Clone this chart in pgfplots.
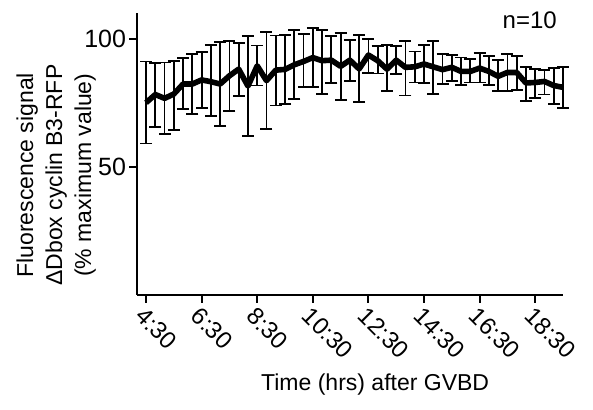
\documentclass[border=0pt]{standalone}
\usepackage{fontspec}
\setmainfont{Liberation Sans}
\usepackage{pgfplots}
\pgfplotsset{compat=1.18}

% time in minutes after GVBD, mean, error up, error down
\pgfplotstableread{
t    y     ep    em
270  75.0  16.1  15.9
290  78.2  12.3  12.7
310  76.7  14.0  14.0
330  78.4  13.0  13.9
350  82.3  10.0  9.7
370  82.3  11.8  11.8
390  83.9  10.9  10.9
410  83.2  14.2  13.5
430  82.3  16.5  16.5
450  85.5  13.6  13.8
470  88.1  10.3  10.6
490  81.5  19.4  19.6
510  89.4  7.9   7.7
530  83.6  18.9  18.8
550  87.7  13.5  13.8
570  88.0  13.4  13.4
590  89.8  13.6  13.4
610  91.1  10.6  10.1
630  92.6  11.4  11.6
650  91.4  12.1  13.1
670  91.6  9.4   9.0
690  89.2  12.9  13.0
710  91.6  7.9   8.0
730  88.2  13.2  13.0
750  93.6  6.2   6.9
770  91.4  5.8   5.0
790  88.1  9.5   8.6
810  91.6  5.6   5.4
830  88.8  10.3  11.0
850  89.0  6.0   6.1
870  90.1  7.3   7.4
890  89.0  10.1  10.6
910  87.9  6.1   5.6
930  88.8  4.9   5.2
950  87.2  5.4   5.3
970  87.2  4.8   4.3
990  88.5  6.0   5.6
1010 87.2  6.1   5.3
1030 85.3  6.3   5.8
1050 86.8  7.2   7.1
1070 86.8  6.4   6.7
1090 82.7  6.3   7.1
1110 82.9  5.2   6.2
1130 83.3  4.6   5.1
1150 81.7  6.7   7.1
1170 81.0  7.8   8.0
}\cyclin

\begin{document}
\begin{tikzpicture}
\begin{axis}[
    name=ax,
    scale only axis,
    width=213pt, height=141pt,
    xmin=250.5, xmax=1170,
    ymin=0, ymax=110,
    clip=false,
    axis x line*=bottom,
    axis y line*=left,
    axis line style={line width=1pt},
    tick align=outside,
    major tick length=3.8pt,
    tick style={black, line width=1pt},
    xtick={270,390,510,630,750,870,990,1110},
    xticklabels={4:30,6:30,8:30,10:30,12:30,14:30,16:30,18:30},
    ytick={50,100},
    /pgf/number format/assume math mode=true,
    ticklabel style={font=\fontsize{12}{14}\selectfont},
    yticklabel style={font=\fontsize{12.5}{14}\selectfont, inner sep=1.5pt},
    xticklabel style={rotate=-45, anchor=north west, inner sep=1pt},
    xlabel={Time (hrs) after GVBD},
    xlabel style={at={(axis description cs:0.559,-0.316)}, anchor=center,
        font=\fontsize{11.5}{14}\selectfont},
    ylabel={Fluorescence signal\\ΔDbox cyclin B3-RFP\\(\% maximum value)},
    ylabel style={at={(axis description cs:-0.08,0.425)}, anchor=south,
        align=center, font=\fontsize{11.5}{14.5}\selectfont},
]
% error bars
\addplot[draw=none, mark=none,
    error bars/.cd, y dir=both, y explicit,
    error bar style={draw=black, solid, line width=0.9pt},
    error mark options={draw=black, rotate=90, mark size=3pt, line width=0.9pt}]
    table[x=t, y=y, y error plus=ep, y error minus=em] {\cyclin};
% mean
\addplot[black, line width=2.8pt, line join=round, mark=none]
    table[x=t, y=y] {\cyclin};
\node[font=\fontsize{12}{14}\selectfont] at (axis description cs:0.922,0.975) {n=10};
\end{axis}
\path ([shift={(-68.5pt,-57.5pt)}]ax.south west) rectangle ([shift={(15pt,6.5pt)}]ax.north east);
\end{tikzpicture}
\end{document}
